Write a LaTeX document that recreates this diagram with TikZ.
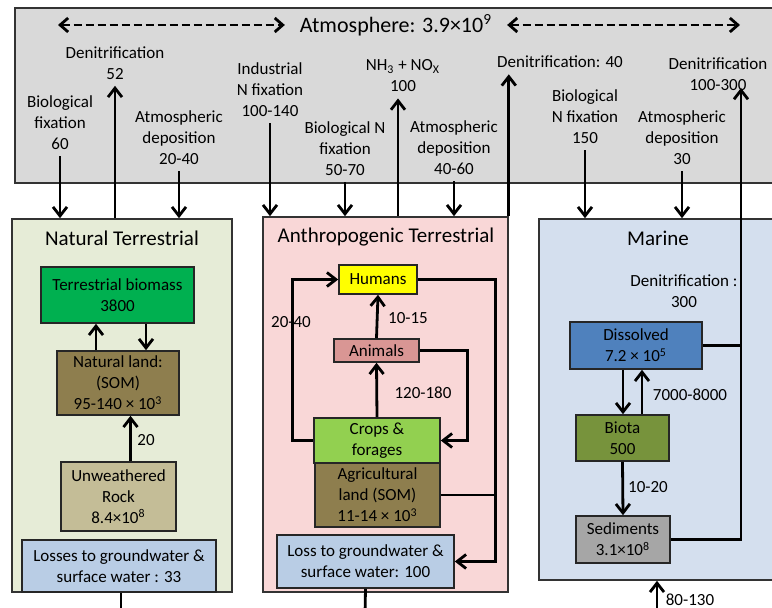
\documentclass[tikz,border=0pt]{standalone}
\usepackage{fontspec}
\setmainfont{Carlito}
\usetikzlibrary{arrows, arrows.meta}

\definecolor{atmgray}{HTML}{D9D9D9}
\definecolor{natgreen}{HTML}{E6ECD7}
\definecolor{anthpink}{HTML}{F9D7D7}
\definecolor{marblue}{HTML}{D4DFEE}
\definecolor{soilbrown}{HTML}{8E7E4E}
\definecolor{biomassgreen}{HTML}{00B050}
\definecolor{rocktan}{HTML}{C4BD97}
\definecolor{lossblue}{HTML}{B9CDE5}
\definecolor{humanyellow}{HTML}{FFFF00}
\definecolor{animalred}{HTML}{D99694}
\definecolor{cropgreen}{HTML}{92D050}
\definecolor{dissblue}{HTML}{4F81BD}
\definecolor{biotagreen}{HTML}{77933C}
\definecolor{sedgray}{HTML}{A6A6A6}

\tikzstyle{region} = [rectangle, draw=black!80, line width=0.8pt]
\tikzstyle{pool} = [rectangle, draw=black!85, line width=0.8pt, align=center, inner sep=1pt, font=\fontsize{8.5}{10.5}\selectfont]
\tikzstyle{flux} = [align=center, inner sep=3pt, font=\fontsize{8.5}{10.5}\selectfont]
\tikzstyle{title} = [font=\fontsize{10.5}{12}\selectfont]
\tikzstyle{arrow} = [line width=1.4pt,-{Straight Barb[length=4.5pt,width=7pt,line width=1.4pt]}]
\tikzstyle{link} = [line width=1.4pt]
\tikzstyle{exchange} = [line width=1.2pt,{Straight Barb[length=4pt,width=7pt,line width=1.4pt]}-{Straight Barb[length=4pt,width=7pt,line width=1.4pt]},dash pattern=on 4pt off 2pt]

\begin{document}
\begin{tikzpicture}[x=0.5pt,y=-0.5pt]
\clip (0,0) rectangle (772,608);

% regions
\node (atmos) at (396,95.5) [region, fill=atmgray, minimum width=381pt, minimum height=87.5pt] {};
\node (natural) at (122,405.5) [region, fill=natgreen, minimum width=110pt, minimum height=186.5pt] {};
\node (anthro) at (385.5,404.5) [region, fill=anthpink, minimum width=122.5pt, minimum height=187.5pt] {};
\node (marine) at (664.5,399.5) [region, fill=marblue, minimum width=125.5pt, minimum height=180.5pt] {};

\node (atmtitle) at (396,25) [title, font=\fontsize{11}{13}\selectfont] {Atmosphere: 3.9×10\textsuperscript{9}};
\node (nattitle) at (122,238) [title] {Natural Terrestrial};
\node (anttitle) at (386,237) [title] {Anthropogenic Terrestrial};
\node (martitle) at (658,238) [title] {Marine};

\coordinate (exL) at (58,25);
\coordinate (exR) at (740,25);
\draw [exchange] (exL) -- ([xshift=-4pt]atmtitle.west);
\draw [exchange] ([xshift=4pt]atmtitle.east) -- (exR);

% atmosphere fluxes
\node (bfix) at (60,123) [flux] {Biological\\fixation\\60};
\node (denit1) at (115,63) [flux] {Denitrification\\52};
\node (atmdep1) at (179,138) [flux] {Atmospheric\\deposition\\20-40};
\node (indfix) at (270,90) [flux] {Industrial\\N fixation\\100-140};
\node (bnfix) at (345,149) [flux] {Biological N\\fixation\\50-70};
\node (nh3) at (403,76) [flux] {NH\textsubscript{3} + NO\textsubscript{X}\\100};
\node (atmdep2) at (454,148) [flux] {Atmospheric\\deposition\\40-60};
\node (denit3) at (560,62) [flux] {Denitrification: 40};
\node (bnfix2) at (585,117) [flux] {Biological\\N fixation\\150};
\node (atmdep3) at (682,138) [flux] {Atmospheric\\deposition\\30};
\node (denit4) at (718,74) [flux] {Denitrification\\100-300};

% natural terrestrial
\node (biomass) at (117.5,295) [pool, fill=biomassgreen, minimum width=76.5pt, minimum height=28pt] {Terrestrial biomass\\3800};
\node (natland) at (118,383) [pool, fill=soilbrown, minimum width=61pt, minimum height=32pt] {Natural land:\\(SOM)\\95-140 × 10\textsuperscript{3}};
\node (rock) at (118.5,496.5) [pool, fill=rocktan, minimum width=57.5pt, minimum height=34.5pt] {Unweathered\\Rock\\8.4×10\textsuperscript{8}};
\node (losses) at (119,566) [pool, fill=lossblue, minimum width=97pt, minimum height=26pt] {Losses to groundwater \&\\surface water : 33};
\node (f20) at (146,440) [flux] {20};

% anthropogenic terrestrial
\node (humans) at (378,279.5) [pool, fill=humanyellow, minimum width=39pt, minimum height=14.5pt] {Humans};
\node (animals) at (376.5,350.5) [pool, fill=animalred, minimum width=42.5pt, minimum height=11.5pt] {Animals};
\node (crops) at (377,440.5) [pool, fill=cropgreen, minimum width=63pt, minimum height=22.5pt] {Crops \&\\forages};
\node (agri) at (377.5,495) [pool, fill=soilbrown, minimum width=62.5pt, minimum height=32pt] {Agricultural\\land (SOM)\\11-14 × 10\textsuperscript{3}};
\node (loss) at (365.5,561.5) [pool, fill=lossblue, minimum width=88.5pt, minimum height=26.5pt] {Loss to groundwater \&\\surface water: 100};
\node (f2040) at (291,322) [flux] {20-40};
\node (f1015) at (408,318) [flux] {10-15};
\node (f120) at (423,393) [flux] {120-180};

% marine
\node (mdenit) at (684,291) [flux] {Denitrification :\\300};
\node (dissolved) at (636,345.5) [pool, fill=dissblue, minimum width=66pt, minimum height=23.5pt] {Dissolved\\7.2 × 10\textsuperscript{5}};
\node (biota) at (622.5,438) [pool, fill=biotagreen, minimum width=46.5pt, minimum height=23pt] {Biota\\500};
\node (sediments) at (623,539.5) [pool, fill=sedgray, minimum width=47pt, minimum height=23.5pt] {Sediments\\3.1×10\textsuperscript{8}};
\node (f7000) at (690,395) [flux] {7000-8000};
\node (f1020) at (648,487) [flux] {10-20};
\node (f80) at (690,600) [flux] {80-130};

% arrows
\draw [arrow] (bfix.south) -- (bfix.south |- natural.north);
\draw [arrow] (natural.north -| denit1.south) -- (denit1.south);
\draw [arrow] (atmdep1.south) -- (atmdep1.south |- natural.north);
\draw [arrow] (indfix.south) -- (indfix.south |- anthro.north);
\draw [arrow] (bnfix.south) -- (bnfix.south |- anthro.north);
\draw [arrow] ([xshift=-2.5pt]nh3.south |- anthro.north) -- ([xshift=-2.5pt]nh3.south);
\draw [arrow] (atmdep2.south) -- (atmdep2.south |- anthro.north);
\draw [arrow] (anthro.north east) -- (anthro.north east |- denit3.south);
\draw [arrow] (bnfix2.south) -- (bnfix2.south |- marine.north);
\draw [arrow] (atmdep3.south) -- (atmdep3.south |- marine.north);

\draw [arrow] ([xshift=-11pt]natland.north) -- ([xshift=-11pt]natland.north |- biomass.south);
\draw [arrow] ([xshift=14pt]natland.north |- biomass.south) -- ([xshift=14pt]natland.north);
\draw [arrow] ([xshift=6pt]rock.north) -- ([xshift=6pt]rock.north |- natland.south);

\draw [arrow] (crops.north) -- (animals.south);
\draw [arrow] (animals.north) -- (humans.south);
\draw [arrow] (crops.west) -- ++(-21,0) |- (humans.west);
\draw [arrow] (animals.east) -- ++(48,0) |- (crops.east);
\draw [arrow] (humans.east) -- ++(78,0) |- (loss.east);
\draw [link] (agri.east) -- ++(55,0);

\coordinate (denit4end) at (741,88);
\draw [arrow] ([xshift=-6.5pt]dissolved.south) -- ([xshift=-6.5pt]dissolved.south |- biota.north);
\draw [arrow] ([xshift=9.75pt]biota.north) -- ([xshift=9.75pt]biota.north |- dissolved.south);
\draw [arrow] (biota.south) -- (sediments.north);
\draw [arrow] (sediments.east) -| (denit4end);
\draw [link] (dissolved.east) -- (dissolved.east -| denit4end);

\coordinate (natout) at (121,615);
\coordinate (antout) at (365,615);
\coordinate (marin) at (657,615);
\draw [link] (losses.south -| natout) -- (natout);
\draw [link] (loss.south) -- (antout);
\draw [arrow] (marin) -- (marin |- marine.south);

\end{tikzpicture}
\end{document}
